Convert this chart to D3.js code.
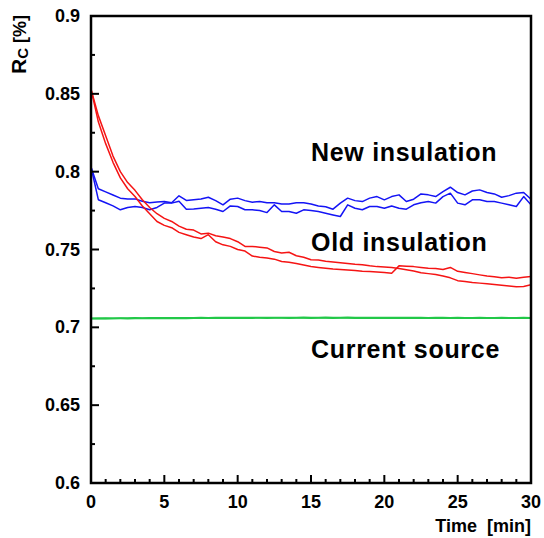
<!DOCTYPE html>
<html lang="en">
<head>
    <meta charset="UTF-8">
    <title>R_C vs time</title>
    <script src="https://d3js.org/d3.v7.min.js"></script>
    <style>
        body { margin: 0; background: #fff; }
        text { font-family: "Liberation Sans", Arial, Helvetica, sans-serif; font-weight: bold; }
    </style>
</head>
<body>
    <svg></svg>

    <script>
        const w = 544;
        const h = 538;
        const margin = {left: 91, right: 13, top: 16, bottom: 55};

        // sampling times [min]
        const time = [0,0.5,1,1.5,2,2.5,3,3.5,4,4.5,5,5.5,6,6.5,7,7.5,8,8.5,9,9.5,
            10,10.5,11,11.5,12,12.5,13,13.5,14,14.5,15,15.5,16,16.5,17,17.5,18,18.5,19,19.5,
            20,20.5,21,21.5,22,22.5,23,23.5,24,24.5,25,25.5,26,26.5,27,27.5,28,28.5,29,29.5,30];

        // old insulation (red)
        const oldA = [0.853,0.836,0.823,0.810,0.800,0.793,0.788,0.782,0.777,0.773,
            0.770,0.768,0.765,0.763,0.7625,0.760,0.7605,0.7588,0.758,0.757,
            0.755,0.752,0.752,0.7515,0.751,0.7487,0.7477,0.7482,0.746,0.745,
            0.7434,0.7432,0.7425,0.742,0.7415,0.741,0.7405,0.7402,0.7395,0.739,
            0.7388,0.7385,0.7378,0.737,0.7362,0.735,0.7345,0.734,0.733,0.7318,
            0.730,0.7295,0.7288,0.7284,0.728,0.7275,0.727,0.7265,0.726,0.7262,0.7273];
        const oldB = [0.853,0.832,0.818,0.806,0.796,0.789,0.784,0.778,0.773,0.768,
            0.7655,0.764,0.761,0.7595,0.758,0.757,0.7595,0.755,0.753,0.752,
            0.750,0.749,0.7458,0.745,0.7445,0.7438,0.7423,0.7418,0.741,0.740,
            0.7391,0.7385,0.738,0.7375,0.7372,0.7369,0.7365,0.736,0.7358,0.7355,
            0.7352,0.7348,0.7395,0.7392,0.739,0.7385,0.738,0.7378,0.7372,0.7385,
            0.736,0.7352,0.7345,0.7337,0.733,0.7325,0.7318,0.7322,0.7316,0.7322,0.7326];

        // new insulation (blue)
        const newA = [0.803,0.789,0.787,0.785,0.783,0.7825,0.7825,0.781,0.780,0.7805,
            0.7808,0.780,0.7845,0.7815,0.782,0.7825,0.7836,0.7814,0.7787,0.7823,
            0.783,0.7814,0.7804,0.7808,0.780,0.780,0.7793,0.7793,0.780,0.780,
            0.7792,0.778,0.7775,0.7759,0.7798,0.783,0.7814,0.7808,0.783,0.784,
            0.7819,0.784,0.7851,0.7808,0.7823,0.7857,0.7851,0.784,0.7872,0.790,
            0.7866,0.7851,0.7876,0.7883,0.7866,0.7857,0.7836,0.7846,0.7862,0.7866,0.7823];
        const newB = [0.803,0.782,0.780,0.778,0.7755,0.777,0.7776,0.777,0.7755,0.777,
            0.7798,0.7798,0.781,0.7759,0.776,0.7765,0.777,0.7759,0.7744,0.778,
            0.7776,0.7755,0.7755,0.775,0.7737,0.7787,0.7744,0.7744,0.7733,0.7755,
            0.775,0.7744,0.7733,0.7722,0.7712,0.7787,0.7765,0.7755,0.7776,0.7776,
            0.7765,0.778,0.7765,0.7759,0.7787,0.780,0.7808,0.7798,0.784,0.7862,
            0.7798,0.7787,0.7819,0.7819,0.7808,0.7808,0.7798,0.7787,0.7776,0.784,0.7787];

        // current source (green)
        const srcA = [0.7058,0.7058,0.7059,0.7058,0.7059,0.7059,0.7060,0.7059,0.7060,0.7060,
            0.7060,0.7061,0.7060,0.7061,0.7061,0.7062,0.7061,0.7062,0.7062,0.7063,
            0.7062,0.7063,0.7063,0.7062,0.7063,0.7063,0.7062,0.7063,0.7063,0.7064,
            0.7063,0.7063,0.7064,0.7063,0.7063,0.7064,0.7063,0.7063,0.7062,0.7063,
            0.7063,0.7062,0.7062,0.7063,0.7062,0.7062,0.7061,0.7062,0.7062,0.7061,
            0.7062,0.7061,0.7061,0.7062,0.7061,0.7061,0.7062,0.7061,0.7061,0.7062,0.7061];
        const srcB = [0.7056,0.7057,0.7056,0.7057,0.7057,0.7056,0.7057,0.7058,0.7057,0.7058,
            0.7058,0.7058,0.7059,0.7058,0.7059,0.7059,0.7060,0.7059,0.7060,0.7060,
            0.7061,0.7060,0.7060,0.7061,0.7060,0.7061,0.7061,0.7060,0.7061,0.7061,
            0.7060,0.7061,0.7061,0.7060,0.7061,0.7061,0.7060,0.7061,0.7060,0.7060,
            0.7061,0.7060,0.7060,0.7060,0.7059,0.7060,0.7060,0.7059,0.7060,0.7059,
            0.7059,0.7060,0.7059,0.7059,0.7060,0.7059,0.7059,0.7060,0.7059,0.7059,0.7060];

        const xTicks = [0, 5, 10, 15, 20, 25, 30];
        const yTicks = [0.6, 0.65, 0.7, 0.75, 0.8, 0.85, 0.9];
        const yTickLabels = ["0.6", "0.65", "0.7", "0.75", "0.8", "0.85", "0.9"];
        const xMinor = [1,2,3,4,6,7,8,9,11,12,13,14,16,17,18,19,21,22,23,24,26,27,28,29];
        const yMinor = [0.625, 0.675, 0.725, 0.775, 0.825, 0.875];

        const labels = [
            {text: "New insulation", t: 15.0, v: 0.807},
            {text: "Old insulation", t: 15.0, v: 0.749},
            {text: "Current source", t: 15.0, v: 0.680}
        ];

        const series = [
            {values: srcA, color: "#22c848", width: 1.8},
            {values: srcB, color: "#22c848", width: 1.8},
            {values: newA, color: "#1414f5", width: 1.5},
            {values: newB, color: "#1414f5", width: 1.5},
            {values: oldA, color: "#f51414", width: 1.5},
            {values: oldB, color: "#f51414", width: 1.5}
        ];

        const svg = d3.select("svg").attr("width", w).attr("height", h);

        const x = d3.scaleLinear().domain([0, 30]).range([margin.left, w - margin.right]);
        const y = d3.scaleLinear().domain([0.6, 0.9]).range([h - margin.bottom, margin.top]);

        svg.append("clipPath").attr("id", "plot")
            .append("rect")
                .attr("x", x(0)).attr("y", y(0.9))
                .attr("width", x(30) - x(0)).attr("height", y(0.6) - y(0.9));

        const line = d3.line()
            .x((d, i) => x(time[i]))
            .y(d => y(d));

        svg.append("g").attr("clip-path", "url(#plot)")
            .selectAll("path")
            .data(series)
            .enter()
            .append("path")
                .attr("d", d => line(d.values))
                .attr("fill", "none")
                .attr("stroke", d => d.color)
                .attr("stroke-width", d => d.width)
                .attr("stroke-linejoin", "round");

        // axes, ticks pointing inward (drawn as plain lines from the scales)
        const ticks = svg.append("g").attr("class", "ticks")
            .attr("stroke", "#000")
            .attr("stroke-width", 2);

        ticks.selectAll("line.xmaj")
            .data(xTicks.concat(xMinor))
            .enter()
            .append("line")
                .attr("x1", d => x(d)).attr("x2", d => x(d))
                .attr("y1", y(0.6))
                .attr("y2", d => y(0.6) - (d % 5 === 0 ? 8 : 4));

        ticks.selectAll("line.y")
            .data(yTicks.concat(yMinor))
            .enter()
            .append("line")
                .attr("y1", d => y(d)).attr("y2", d => y(d))
                .attr("x1", x(0))
                .attr("x2", d => x(0) + (yTicks.includes(d) ? 8 : 4));

        svg.append("g")
            .selectAll("text")
            .data(xTicks)
            .enter()
            .append("text")
                .attr("x", d => x(d))
                .attr("y", y(0.6) + 25)
                .attr("text-anchor", "middle")
                .attr("font-size", 18)
                .text(d => d);

        svg.append("g")
            .selectAll("text")
            .data(yTicks)
            .enter()
            .append("text")
                .attr("x", x(0) - 11)
                .attr("y", d => y(d))
                .attr("dy", "0.34em")
                .attr("text-anchor", "end")
                .attr("font-size", 18)
                .text((d, i) => yTickLabels[i]);

        svg.append("rect")
            .attr("x", x(0)).attr("y", y(0.9))
            .attr("width", x(30) - x(0)).attr("height", y(0.6) - y(0.9))
            .attr("fill", "none")
            .attr("stroke", "#000")
            .attr("stroke-width", 2.5);

        // series labels
        svg.append("g").selectAll("text")
            .data(labels)
            .enter()
            .append("text")
                .attr("x", d => x(d.t))
                .attr("y", d => y(d.v))
                .attr("font-size", 25)
                .attr("letter-spacing", 0.7)
                .attr("fill", "#000")
                .text(d => d.text);

        // axis titles
        svg.append("text")
            .attr("x", x(30))
            .attr("y", 532)
            .attr("text-anchor", "end")
            .attr("font-size", 18)
            .attr("xml:space", "preserve")
            .text("Time  [min]");

        const yTitle = svg.append("text")
            .attr("transform", `translate(26, ${y(0.9) - 1}) rotate(-90)`)
            .attr("text-anchor", "end")
            .attr("font-size", 18);
        yTitle.append("tspan").attr("font-size", 21).text("R");
        yTitle.append("tspan").attr("font-size", 15).attr("dy", 2).text("C");
        yTitle.append("tspan").attr("font-size", 18).attr("dy", -2).text(" [%]");
    </script>
</body>
</html>
